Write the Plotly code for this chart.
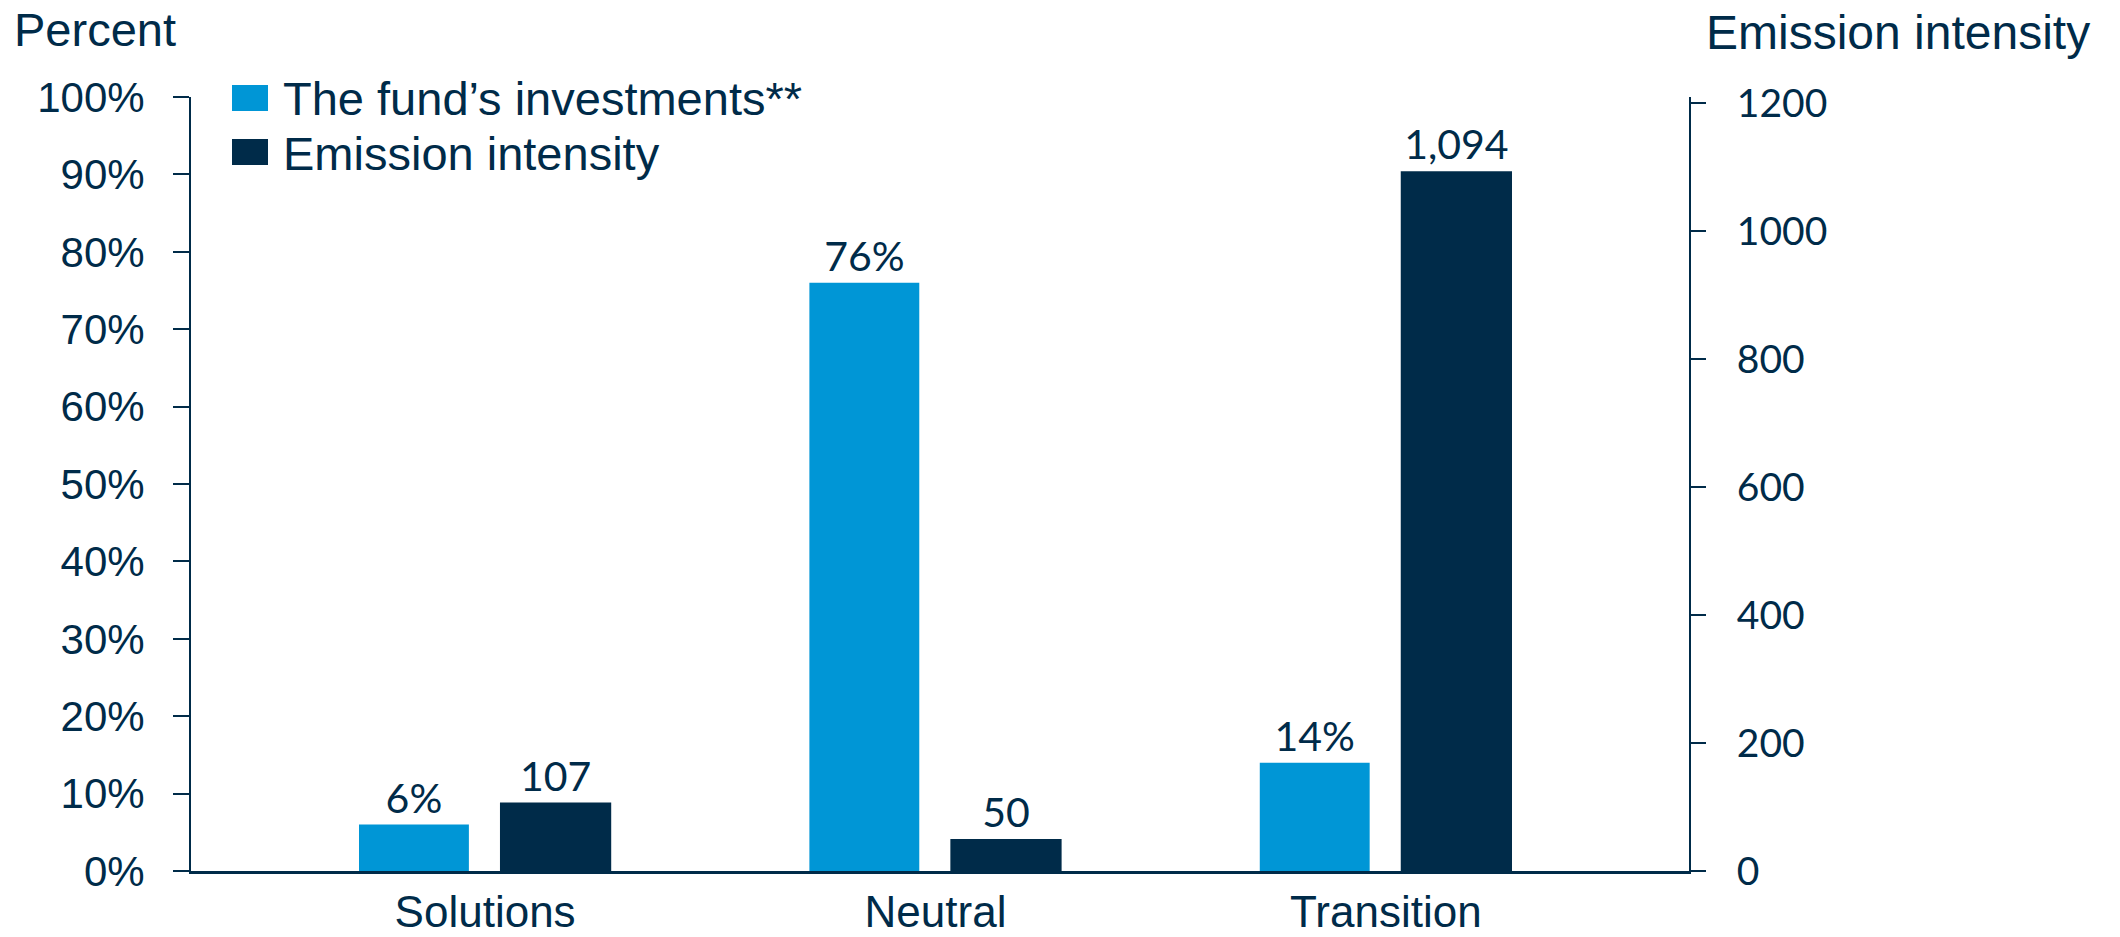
import plotly.graph_objects as go

# Data
categories = ["Solutions", "Neutral", "Transition"]
fund_share_pct = [6, 76, 14]          # share of the fund's investments, percent
emission_intensity = [107, 50, 1094]  # emission intensity, right axis

# Styling
NAVY = "#002B49"
BLUE = "#0096D6"
ARIAL = "Liberation Sans, Arial, sans-serif"
CALIBRI = "Lato, Carlito, Calibri, sans-serif"

W, H = 2120, 937
# plot box in pixels
L, R, T, B = 191, 1689, 97, 871
PW, PH = R - L, B - T


def px_x(x):
    return (x - L) / PW


def px_y(y):
    return (B - y) / PH


fig = go.Figure()

fig.add_trace(go.Bar(
    x=categories, y=fund_share_pct, name="The fund\u2019s investments**",
    marker=dict(color=BLUE, line=dict(width=0)),
    width=0.244, offset=-0.28,
    text=[f"{v}%" for v in fund_share_pct], textposition="outside",
    textfont=dict(family=CALIBRI, size=41, color=NAVY),
    cliponaxis=False, yaxis="y", showlegend=False,
))

fig.add_trace(go.Bar(
    x=categories, y=emission_intensity, name="Emission intensity",
    marker=dict(color=NAVY, line=dict(width=0)),
    width=0.247, offset=0.033,
    text=[f"{v:,}" for v in emission_intensity], textposition="outside",
    textfont=dict(family=CALIBRI, size=41, color=NAVY),
    cliponaxis=False, yaxis="y2", showlegend=False,
))

# Legend entries: colour swatch + label
legend_items = [("The fund\u2019s investments**", BLUE, 85), ("Emission intensity", NAVY, 139)]
shapes = []
annotations = []
for label, color, top in legend_items:
    shapes.append(dict(type="rect", xref="paper", yref="paper",
                       x0=px_x(232), x1=px_x(268), y0=px_y(top + 26), y1=px_y(top),
                       fillcolor=color, line=dict(width=0)))
    annotations.append(dict(text=label, xref="paper", yref="paper",
                            x=px_x(281), y=px_y(top + 14), xanchor="left", yanchor="middle",
                            showarrow=False, font=dict(family=ARIAL, size=47, color=NAVY)))

# Axis titles, set horizontally above each axis
annotations.append(dict(text="Percent", xref="paper", yref="paper",
                        x=px_x(12), y=px_y(29), xanchor="left", yanchor="middle",
                        showarrow=False, font=dict(family=ARIAL, size=47, color=NAVY)))
annotations.append(dict(text="Emission intensity", xref="paper", yref="paper",
                        x=px_x(2092), y=px_y(33), xanchor="right", yanchor="middle",
                        showarrow=False, font=dict(family=ARIAL, size=48, color=NAVY)))

fig.update_layout(
    width=W, height=H,
    margin=dict(l=L, r=W - R, t=T, b=H - B, autoexpand=False),
    paper_bgcolor="white", plot_bgcolor="white",
    barmode="overlay",
    shapes=shapes, annotations=annotations,
    xaxis=dict(
        type="category", range=[-0.653, 2.673],
        showline=True, linecolor=NAVY, linewidth=2.5,
        ticks="", ticklabelstandoff=0,
        tickfont=dict(family=ARIAL, size=44, color=NAVY),
        showgrid=False, zeroline=False, fixedrange=True,
    ),
    yaxis=dict(
        range=[0, 100], dtick=10, ticksuffix="%",
        showline=True, linecolor=NAVY, linewidth=2,
        ticks="outside", ticklen=16, tickwidth=2, tickcolor=NAVY,
        ticklabelstandoff=20,
        tickfont=dict(family=ARIAL, size=42, color=NAVY),
        showgrid=False, zeroline=False,
    ),
    yaxis2=dict(
        overlaying="y", side="right", anchor="x",
        range=[0, 1210], tickvals=[0, 200, 400, 600, 800, 1000, 1200],
        showline=True, linecolor=NAVY, linewidth=2,
        ticks="outside", ticklen=15, tickwidth=2, tickcolor=NAVY,
        ticklabelstandoff=23,
        tickfont=dict(family=CALIBRI, size=39, color=NAVY),
        showgrid=False, zeroline=False,
    ),
)

fig.write_html("out.html")
